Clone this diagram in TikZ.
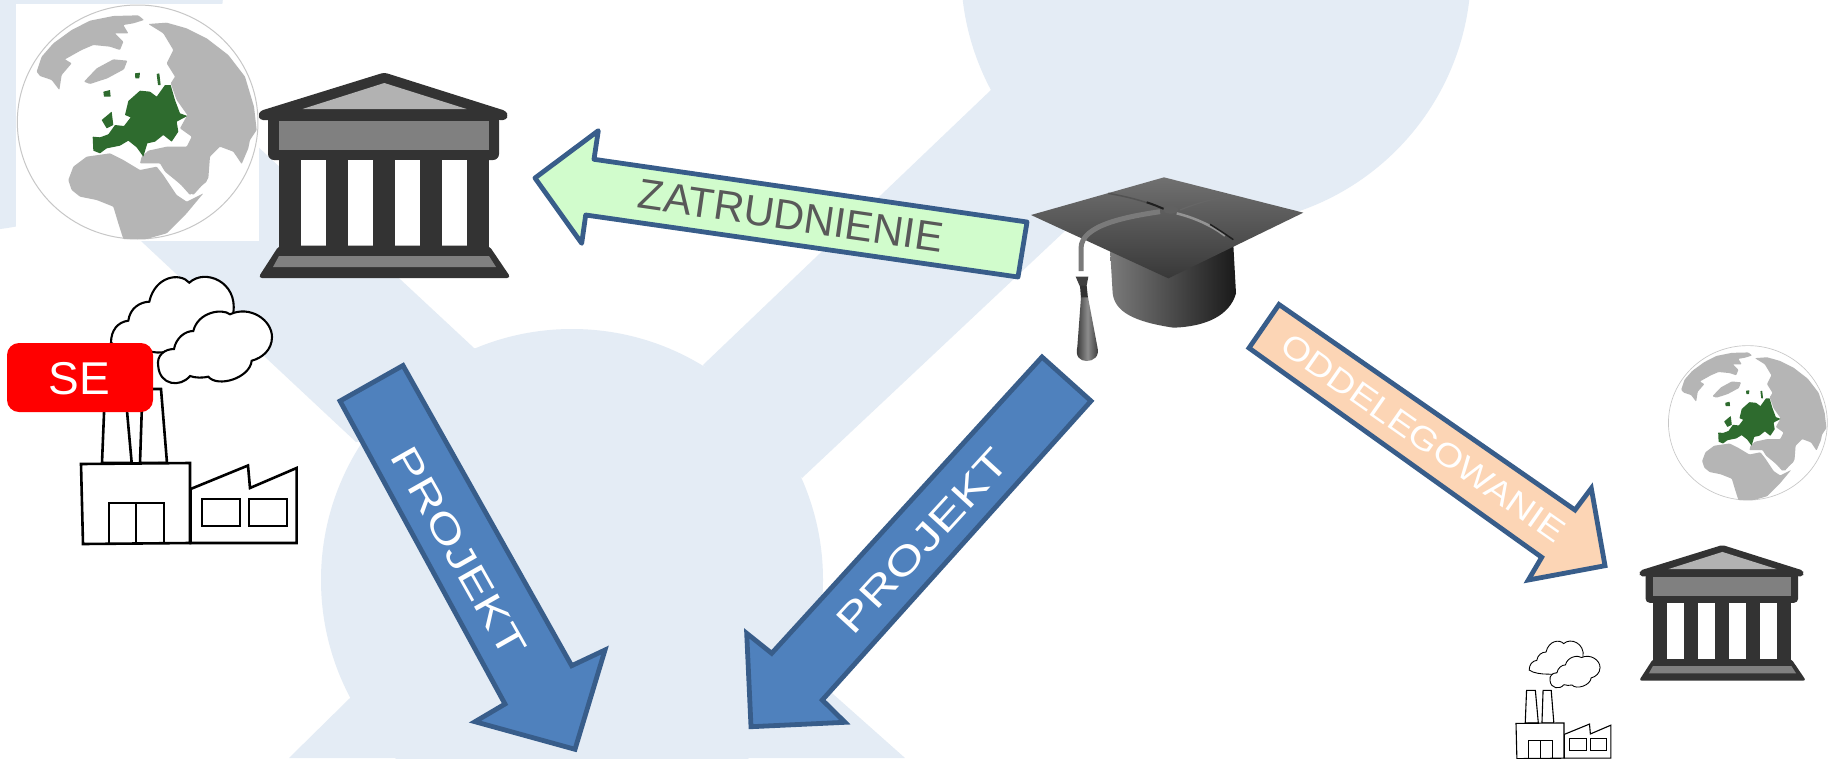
\documentclass[tikz,border=0pt]{standalone}
\usepackage{graphicx}
\usepackage{fontspec}
\setmainfont{Liberation Sans}
\definecolor{bgblue}{HTML}{E4ECF5}
\definecolor{bankdark}{HTML}{333333}
\definecolor{banklight}{HTML}{B2B2B2}
\definecolor{bankmid}{HTML}{808080}
\definecolor{land}{HTML}{B5B5B5}
\definecolor{euro}{HTML}{2E6B2E}
\definecolor{arrowline}{HTML}{385D8A}
\definecolor{arrowblue}{HTML}{4F81BD}
\definecolor{arrowgreen}{HTML}{D1FCCC}
\definecolor{arrowpeach}{HTML}{FCD5B5}
\definecolor{labelgrey}{HTML}{595959}
\tikzset{
  blockarrow/.style={draw=arrowline,line width=4.8pt,miter limit=10,line join=miter},
  arrowlabel/.style={inner sep=0pt,font=\fontsize{#1}{#1}\selectfont,text=white},
  bgshape/.style={fill=bgblue,draw=none},
  landshape/.style={fill=land,draw=none,rounded corners=.8pt},
  euroshape/.style={fill=euro,draw=none,rounded corners=.4pt}
}
\newcommand\drawbank[3]{%
\begin{scope}[shift={(#1,#2)},scale=#3,shift={(-258,-72.5)}]
  \fill[bankdark,rounded corners=#3*3pt] (260,111)--(384.3,72.5)--(506,111)--(508,115.5)--(506,120)--(260,120)--(258.5,115.5)--cycle;
  \fill[banklight] (302.5,109)--(384.3,83)--(466.6,109)--cycle;
  \fill[bankdark,rounded corners=#3*6pt] (268,115) rectangle (499,160);
  \fill[bankmid] (279,121) rectangle (489,150);
  \fill[bankdark] (279,155) rectangle (489,250);
  \foreach \a/\b in {300.5/326,348/373,394.6/420,442/467}{\fill[white] (\a,160) rectangle (\b,245.5);}
  \fill[bankdark,rounded corners=#3*4pt] (279,245.5)--(489,245.5)--(511,278)--(258,278)--cycle;
  \fill[bankmid] (279,256)--(489,256)--(496,267)--(273,267)--cycle;
\end{scope}}
\newcommand\drawfactory[4]{%
\begin{scope}[shift={(#1,#2)},scale=#3,shift={(-81,-279)},line width=#4,draw=black,fill=white,line join=miter]
  \filldraw[line width=.8*#4] (111,342.7) .. controls (111,330) and (118,322) .. (128.3,320.7)
     .. controls (130,308) and (140,302) .. (149.3,301.7)
     .. controls (155,276) and (180,272) .. (189.3,282.7)
     .. controls (205,268) and (238,282) .. (233.3,312.7)
     .. controls (233,335) and (190,349) .. (174,349)
     .. controls (165,353) and (158,353) .. (153,352)
     .. controls (140,352) and (120,350) .. (111,342.7) -- cycle;
  \filldraw[line width=.8*#4] (158.3,366.7) .. controls (156,355) and (165,349) .. (174,349)
     .. controls (176,338) and (185,331) .. (193.3,331)
     .. controls (198,312) and (222,308) .. (230,314.3)
     .. controls (250,305) and (272,320) .. (272,337)
     .. controls (272,350) and (262,358) .. (251.7,360.7)
     .. controls (250,378) and (218,388) .. (208.3,376.7)
     .. controls (203,378) and (195,378) .. (190,376)
     .. controls (180,388) and (160,385) .. (158.3,366.7) -- cycle;
  \filldraw (102,463)--(105,389)--(125,389)--(131.7,463)--cycle;
  \filldraw (140,463)--(142.5,389)--(161,389)--(167,463)--cycle;
  \filldraw (190.6,489)--(248,465.5)--(250,488)--(296.6,468)--(296.6,543)--(190.6,543)--cycle;
  \filldraw (81,464)--(190,463)--(190,543)--(83,544)--cycle;
  \draw (109,543)--(109,503)--(164,503)--(164,543) (136,503)--(136,543);
  \draw[line width=.7*#4] (201.7,499) rectangle (240,526) (249,499) rectangle (287,526);
\end{scope}}
\newcommand\drawglobe[3]{%
\begin{scope}[shift={(#1,#2)},scale=#3/3]
  \filldraw[fill=white,draw=black!22,line width=#3*1pt] (413,366) ellipse [x radius=361,y radius=351];
  % North America with Arctic islands
  \fill[landshape] (110,215)--(125,170)--(160,130)--(215,90)--(270,62)--(340,48)--(415,46)--(432,60)--(400,70)--(370,75)--(385,100)--(345,100)--(370,125)--(360,150)--(330,140)--(280,135)--(245,150)--(195,178)--(215,190)--(185,225)--(178,270)--(155,240)--(120,228)--cycle;
  % Greenland
  \fill[landshape] (252,245)--(290,205)--(340,178)--(382,182)--(372,208)--(322,235)--(270,252)--cycle;
  % Asia and Middle East
  \fill[landshape] (445,72)--(500,68)--(560,85)--(620,115)--(685,165)--(735,230)--(762,320)--(770,390)--(750,420)--(745,445)--(725,492)--(700,455)--(660,440)--(630,470)--(625,535)--(580,585)--(550,560)--(495,515)--(480,490)--(420,490)--(425,470)--(445,452)--(500,440)--(560,440)--(575,410)--(540,385)--(562,345)--(530,300)--(512,250)--(525,230)--(500,190)--(520,150)--(490,100)--cycle;
  % Arabia
  \fill[landshape] (500,490)--(560,480)--(625,510)--(620,545)--(570,585)--(530,540)--cycle;
  % Africa
  \fill[landshape] (205,540)--(220,500)--(260,470)--(330,460)--(370,480)--(420,510)--(470,500)--(490,525)--(530,585)--(560,605)--(610,580)--(560,640)--(540,660)--(500,700)--(440,717)--(370,717)--(355,670)--(340,620)--(290,600)--(240,590)--(215,570)--cycle;
  % Europe
  \fill[euroshape] (278,410)--(300,412)--(325,403)--(345,375)--(372,378)--(392,352)--(375,345)--(385,303)--(420,272)--(450,275)--(470,290)--(495,255)--(512,255)--(525,300)--(540,340)--(562,348)--(530,365)--(535,395)--(515,425)--(490,405)--(465,425)--(442,430)--(430,470)--(410,442)--(385,422)--(360,437)--(320,445)--(300,460)--(280,452)--cycle;
  \fill[euroshape] (305,360)--(335,335)--(340,375)--(320,385)--cycle;
  \fill[euroshape] (310,275)--(330,270)--(332,290)--(312,290)--cycle;
  \fill[euroshape] (405,220)--(420,218)--(418,235)--(406,235)--cycle;
  \fill[euroshape] (470,222)--(478,220)--(482,255)--(474,255)--cycle;
\end{scope}}
\begin{document}
\begin{tikzpicture}[x=1pt,y=-1pt]
\useasboundingbox (0,0) rectangle (1839,758);
\fill[white] (0,0) rectangle (1839,758);
% background emblem
\fill[bgshape] (-32,-25) circle [radius=256];
\fill[bgshape] (197,90)--(474,348)--(572,400)--(356,442)--(95,198)--cycle;
\fill[bgshape] (572,580) circle [radius=251];
\fill[bgshape] (350,698)--(289,758)--(905,758)--(806,670)--cycle;
\fill[bgshape] (1216,-30) circle [radius=255];
\fill[bgshape] (992,89)--(703,365)--(802,478)--(1100,198)--(1216,-30)--cycle;
% left globe on its white picture
\fill[white] (16,4) rectangle (259,241);
\drawglobe{0}{0}{1}
\drawbank{258}{72.5}{1}
\drawfactory{81}{279}{1}{2.6pt}
\node[fill=red,rounded corners=12pt,minimum width=146pt,minimum height=69pt,inner sep=0pt] (sebox) at (80,377.5) {};
\node[inner sep=0pt,text=white,font=\fontsize{46}{46}\selectfont] (selabel) at (79.5,379) {SE};
% right group
\drawglobe{1657}{342.3}{.66}
\drawbank{1639}{545}{.66}
\drawfactory{1516}{642}{.44}{1.1pt}
% graduation cap
\begin{scope}[shift={(1020,165)},scale=1/3]
  \shade[left color=black!52,right color=black!90] (270,250)--(278,385) .. controls (285,440) and (340,470) .. (460,488) .. controls (560,485) and (630,450) .. (648,385)--(640,240)--cycle;
  \shade[top color=black!56,bottom color=black!78] (33,150)--(432,37)--(850,143)--(445,340)--cycle;
  \draw[black!52,line width=5pt] (420,140) .. controls (320,155) and (183,180) .. (183,250)--(183,318);
  \draw[black!60,line width=1.2pt] (480,135) .. controls (530,115) and (580,100) .. (630,95);
  \draw[black!68,line width=1.5pt] (265,85) .. controls (320,95) and (360,105) .. (400,120);
  \draw[black!88,line width=2pt] (380,112) .. controls (400,118) and (415,125) .. (432,132);
  \draw[black!42,line width=2.5pt] (470,145) .. controls (530,160) and (580,185) .. (615,212);
  \draw[black!88,line width=1.5pt] (570,178) .. controls (590,190) and (620,210) .. (640,224);
  \fill[black!62] (452,134) ellipse [x radius=22,y radius=12];
  \fill[black!75] (167,335)--(205,335)--(200,362)--(180,365)--cycle;
  \fill[black!80] (180,362)--(200,362)--(204,400)--(183,400)--cycle;
  \shade[left color=black!82,right color=black!82,middle color=black!45] (183,397)--(204,397)--(232,545) .. controls (240,575) and (220,588) .. (200,588) .. controls (180,588) and (165,575) .. (172,545)--cycle;
\end{scope}
% block arrows
\draw[blockarrow,fill=arrowgreen,line join=round] (535,178)--(598.3,130.7)--(594,159.3)--(1027,222)--(1018,277)--(585.7,215)--(581.7,243.3)--cycle;
\draw[blockarrow,fill=arrowblue] (403,365.5)--(340,401)--(505,704)--(475,721.7)--(575,749.3)--(605,650)--(571.7,665.7)--cycle;
\draw[blockarrow,fill=arrowblue] (1042,357)--(1091,401)--(822.3,700)--(845,722.3)--(751,726.7)--(746.7,633.3)--(771.7,653.3)--cycle;
\draw[blockarrow,fill=arrowpeach] (1279,304.5)--(1249,348)--(1541.7,557.3)--(1528.3,580)--(1605,565.7)--(1591.3,488.3)--(1575,510)--cycle;
% arrow labels
\node[arrowlabel=42,text=labelgrey,rotate=-8.3] (zatr) at (791,216) {ZATRUDNIENIE};
\node[arrowlabel=39,rotate=-60.5] (proj1) at (459,552) {\scalebox{1.3}[1]{PROJEKT}};
\node[arrowlabel=39,rotate=47.5] (proj2) at (923,541) {\scalebox{1.3}[1]{PROJEKT}};
\node[arrowlabel=33,rotate=-35] (odd) at (1423,438) {\scalebox{1.15}[1]{ODDELEGOWANIE}};
\end{tikzpicture}
\end{document}
